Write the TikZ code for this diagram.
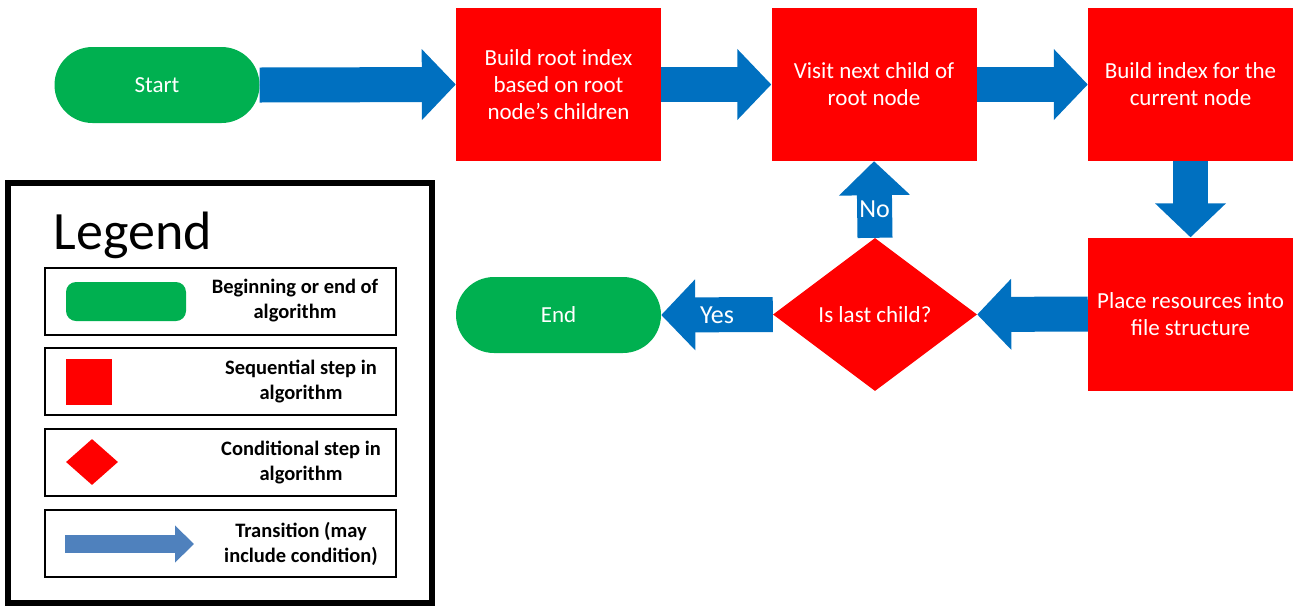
\documentclass[tikz,border=0pt]{standalone}
\usepackage{fontspec}
\setmainfont{Carlito}
\usetikzlibrary{shapes.geometric,arrows.meta}

\definecolor{termgreen}{HTML}{00B050}
\definecolor{stepred}{HTML}{FF0000}
\definecolor{flowblue}{HTML}{0070C0}
\definecolor{keyblue}{HTML}{4F81BD}

\tikzset{
  terminal/.style={rectangle, rounded corners=38pt, fill=termgreen, text=white,
    minimum width=205pt, minimum height=76pt, font=\fontsize{23}{27}\selectfont},
  process/.style={rectangle, fill=stepred, text=white, align=center,
    minimum width=205pt, minimum height=153pt, font=\fontsize{23}{27}\selectfont},
  decision/.style={diamond, fill=stepred, text=white, inner sep=0pt,
    minimum width=204pt, minimum height=153pt, font=\fontsize{23}{27}\selectfont},
  flow/.style={draw=flowblue, line width=35pt, -{Triangle[length=34pt,width=69pt]}},
  flowlabel/.style={text=white, font=\fontsize{26}{27}\selectfont},
  keybox/.style={draw, line width=2pt, minimum width=351pt, minimum height=67pt},
  keytext/.style={align=center, font=\bfseries\fontsize{20.5}{25}\selectfont}
}

\begin{document}
\begin{tikzpicture}[x=1pt, y=-1pt]
\useasboundingbox (0,0) rectangle (1295,606);

\node[terminal] (start) at (157,85) {Start};
\node[process] (root) at (558.5,84.5) {Build root index\\based on root\\node’s children};
\node[process] (visit) at (874,84.5) {Visit next child of\\root node};
\node[process] (build) at (1190.5,84.5) {Build index for the\\current node};
\node[process] (place) at (1190.5,314) {Place resources into\\file structure};
\node[decision] (last) at (875,314.5) {Is last child?};
\node[terminal] (end) at (558.5,315) {End};

\draw[flow] (start.east) -- (root.west);
\draw[flow] (root.east) -- (visit.west);
\draw[flow] (visit.east) -- (build.west);
\draw[flow] (build.south) -- (place.north);
\draw[flow] (place.west) -- (last.east);
\draw[flow] (last.west) -- node[flowlabel] {Yes} (end.east);
\draw[flow] (last.north) -- node[flowlabel, pos=0.37] {No} (visit.south);

\draw[line width=6pt] (8,183) rectangle (432,603);
\node[anchor=base west, font=\fontsize{54}{60}\selectfont] (title) at (50,249) {Legend};

\node[keybox] (keyone) at (220.5,301) {};
\node[keybox] (keytwo) at (220.5,381.5) {};
\node[keybox] (keythree) at (220.5,462.5) {};
\node[keybox] (keyfour) at (220.5,543.5) {};

\node[fill=termgreen, rounded corners=10pt, minimum width=120pt, minimum height=39pt] (keyterm) at (126,301.5) {};
\node[fill=stepred, minimum size=46pt] (keystep) at (89,382) {};
\node[diamond, fill=stepred, inner sep=0pt, minimum width=52pt, minimum height=46pt] (keydec) at (92,462) {};
\coordinate (keyfrom) at (65,544);
\coordinate (keyto) at (194,544);
\draw[keyblue, line width=18pt, -{Triangle[length=19pt,width=36pt]}] (keyfrom) -- (keyto);

\node[keytext] (textone) at (295,300.5) {Beginning or end of\\algorithm};
\node[keytext] (texttwo) at (301,381.5) {Sequential step in\\algorithm};
\node[keytext] (textthree) at (301,462.5) {Conditional step in\\algorithm};
\node[keytext] (textfour) at (301,543.5) {Transition (may\\include condition)};
\end{tikzpicture}
\end{document}
